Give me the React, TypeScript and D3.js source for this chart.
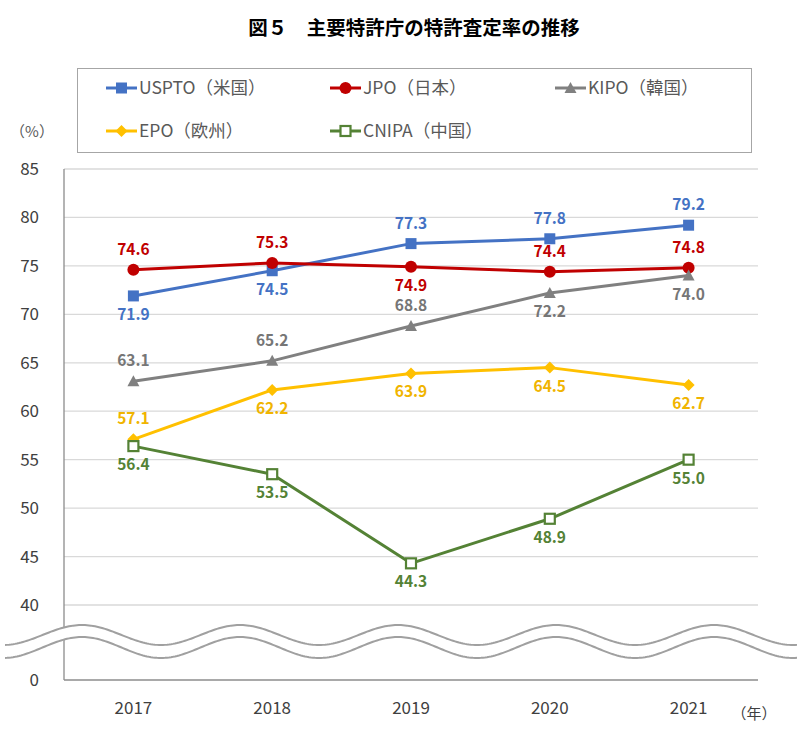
import React from "react";
import * as d3 from "d3";

const years = ["2017", "2018", "2019", "2020", "2021"];
const usptoValues = [71.9, 74.5, 77.3, 77.8, 79.2];
const jpoValues = [74.6, 75.3, 74.9, 74.4, 74.8];
const kipoValues = [63.1, 65.2, 68.8, 72.2, 74.0];
const epoValues = [57.1, 62.2, 63.9, 64.5, 62.7];
const cnipaValues = [56.4, 53.5, 44.3, 48.9, 55.0];
const yTicks = [40, 45, 50, 55, 60, 65, 70, 75, 80, 85];
const seriesNames = ["USPTO（米国）", "JPO（日本）", "KIPO（韓国）", "EPO（欧州）", "CNIPA（中国）"];
// label placement: 1 = above, -1 = below
const usptoPos = [-1, -1, 1, 1, 1];
const jpoPos = [1, 1, -1, 1, 1];
const kipoPos = [1, 1, 1, -1, -1];
const epoPos = [1, -1, -1, -1, -1];
const cnipaPos = [-1, -1, -1, -1, -1];

const FONT = "'Noto Sans CJK JP', 'Noto Sans', sans-serif";

type Series = { name: string; values: number[]; pos: number[]; color: string; labelColor: string; marker: string };

const series: Series[] = [
  { name: seriesNames[0], values: usptoValues, pos: usptoPos, color: "#4472C4", labelColor: "#4472C4", marker: "square" },
  { name: seriesNames[1], values: jpoValues, pos: jpoPos, color: "#C00000", labelColor: "#C00000", marker: "circle" },
  { name: seriesNames[2], values: kipoValues, pos: kipoPos, color: "#808080", labelColor: "#767676", marker: "triangle" },
  { name: seriesNames[3], values: epoValues, pos: epoPos, color: "#FFC000", labelColor: "#F0B400", marker: "diamond" },
  { name: seriesNames[4], values: cnipaValues, pos: cnipaPos, color: "#548235", labelColor: "#548235", marker: "hollow" },
];

function Marker({ type, x, y, color }: { type: string; x: number; y: number; color: string }) {
  if (type === "square") return <rect x={x - 5.5} y={y - 5.5} width={11} height={11} fill={color} />;
  if (type === "circle") return <circle cx={x} cy={y} r={6} fill={color} />;
  if (type === "triangle") return <path d={`M${x},${y - 6}L${x + 6},${y + 5}L${x - 6},${y + 5}Z`} fill={color} />;
  if (type === "diamond") return <path d={`M${x},${y - 6}L${x + 6},${y}L${x},${y + 6}L${x - 6},${y}Z`} fill={color} />;
  return <rect x={x - 5} y={y - 5} width={10} height={10} fill="#fff" stroke={color} strokeWidth={2.2} />;
}

export default function App() {
  const W = 800, H = 730;
  const left = 64, right = 758;
  const x = d3.scaleBand<string>().domain(years).range([left, right]);
  const cx = (yr: string) => (x(yr) as number) + x.bandwidth() / 2;
  const y = d3.scaleLinear().domain([40, 85]).range([605, 169]);
  const zeroY = 680;
  const line = d3.line<number>().x((_, i) => cx(years[i])).y((v) => y(v));

  const waveTop = (px: number) => 635 - 10 * Math.cos((2 * Math.PI * (px - 82)) / 158);
  const waveBot = (px: number) => 647.5 - 10.5 * Math.cos((2 * Math.PI * (px - 82)) / 158);
  const xs = d3.range(5, 798, 2);
  const topPath = d3.line<number>().x((d) => d).y((d) => waveTop(d))(xs) as string;
  const botPath = d3.line<number>().x((d) => d).y((d) => waveBot(d))(xs) as string;
  const bandPath = topPath + "L" + xs.slice().reverse().map((d) => `${d},${waveBot(d)}`).join("L") + "Z";

  const legendPos = [
    { x: 106, y: 88 }, { x: 330, y: 88 }, { x: 555, y: 88 },
    { x: 106, y: 131 }, { x: 330, y: 131 },
  ];

  return (
    <svg width={W} height={H} style={{ position: "absolute", left: 0, top: 0, background: "#fff" }} fontFamily={FONT}>
      <rect width={W} height={H} fill="#fff" />
      <text x={414} y={35} textAnchor="middle" fontSize={19.5} fontWeight="bold" fill="#000">図５　主要特許庁の特許査定率の推移</text>

      {/* legend */}
      <rect x={77.5} y={68.5} width={674} height={84} fill="#fff" stroke="#A6A6A6" strokeWidth={1} />
      {series.map((s, i) => {
        const p = legendPos[i];
        return (
          <g key={s.name}>
            <line x1={p.x} x2={p.x + 31} y1={p.y} y2={p.y} stroke={s.color} strokeWidth={3} />
            <Marker type={s.marker} x={p.x + 15.5} y={p.y} color={s.color} />
            <text x={p.x + 33} y={p.y + 6} fontSize={17.5} fill="#595959">{s.name}</text>
          </g>
        );
      })}

      <text x={32} y={137} textAnchor="middle" fontSize={15} fill="#595959">（%）</text>

      {/* gridlines */}
      {yTicks.map((t) => (
        <g key={t}>
          <line x1={left} x2={right} y1={y(t)} y2={y(t)} stroke="#D9D9D9" strokeWidth={1.3} />
          <text x={39} y={y(t) + 6} textAnchor="end" fontSize={17} fill="#404040">{t}</text>
        </g>
      ))}
      <text x={39} y={zeroY + 6} textAnchor="end" fontSize={17} fill="#404040">0</text>
      <line x1={left} x2={left} y1={169} y2={zeroY} stroke="#8C8C8C" strokeWidth={1.3} />
      <line x1={left} x2={right} y1={zeroY} y2={zeroY} stroke="#8C8C8C" strokeWidth={1.3} />

      {/* break */}
      <path d={bandPath} fill="#fff" stroke="none" />
      <path d={topPath} fill="none" stroke="#A0A0A0" strokeWidth={2} />
      <path d={botPath} fill="none" stroke="#A0A0A0" strokeWidth={2} />

      {years.map((yr) => (
        <text key={yr} x={cx(yr)} y={714} textAnchor="middle" fontSize={17} fill="#404040">{yr}</text>
      ))}
      <text x={754} y={719} textAnchor="middle" fontSize={15} fill="#404040">（年）</text>

      {/* series */}
      {series.map((s) => (
        <g key={s.name}>
          <path d={line(s.values) as string} fill="none" stroke={s.color} strokeWidth={3} strokeLinejoin="round" />
          {s.values.map((v, i) => (
            <Marker key={i} type={s.marker} x={cx(years[i])} y={y(v)} color={s.color} />
          ))}
          {s.values.map((v, i) => (
            <text key={"l" + i} x={cx(years[i])} y={y(v) + (s.pos[i] > 0 ? -15 : 24)} textAnchor="middle" fontSize={15.5} fontWeight="bold" fill={s.labelColor}>
              {v.toFixed(1)}
            </text>
          ))}
        </g>
      ))}
    </svg>
  );
}
